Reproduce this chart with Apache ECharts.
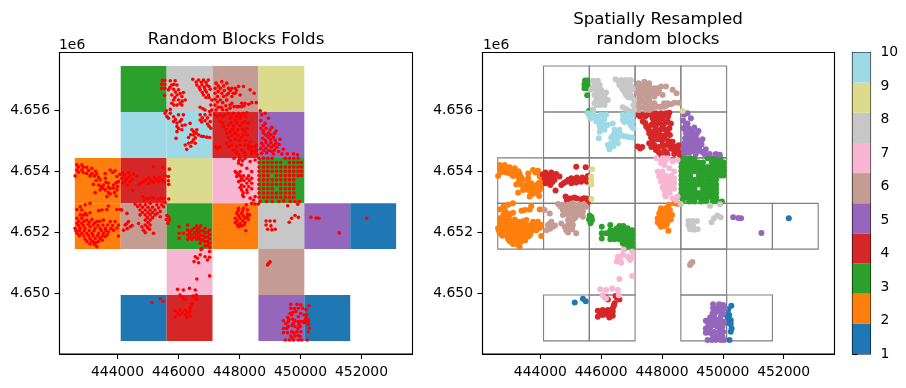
<!DOCTYPE html>
<html><head><meta charset="utf-8">
<style>html,body{margin:0;padding:0;background:#fff}#c{width:906px;height:388px}</style>
<script src="https://cdn.jsdelivr.net/npm/echarts@6/dist/echarts.min.js"></script>
</head><body><div id="c"></div>
<script>
const foldColors=['#1f77b4','#ff7f0e','#2ca02c','#d62728','#9467bd','#c49c94','#f7b6d2','#c7c7c7','#dbdb8d','#9edae5'];
const xTicks=[444000,446000,448000,450000,452000];
const yTicks=[4650000,4652000,4654000,4656000];
const cbTicks=[1,2,3,4,5,6,7,8,9,10];
const xEdges=[442600,444105,445610,447115,448620,450125,451630,453135];
const yEdges=[4657450,4655945,4654440,4652950,4651450,4649945,4648440];
// [column, row, fold]
const blocks=[[1,0,3],[2,0,8],[3,0,6],[4,0,9],[1,1,10],[2,1,10],[3,1,4],[4,1,5],
[0,2,2],[1,2,4],[2,2,9],[3,2,7],[4,2,3],[0,3,2],[1,3,6],[2,3,3],[3,3,2],[4,3,8],[5,3,5],[6,3,1],
[2,4,7],[4,4,6],[1,5,1],[2,5,4],[4,5,5],[5,5,1]];
// sample points in km [easting, northing]
const fold1=[[452.17,4652.46],[445.13,4649.70],[445.40,4649.82],[445.49,4649.74],[450.28,4649.59],[450.18,4649.47],[450.12,4649.29],[450.21,4649.29],[450.15,4649.12],[450.26,4649.12],[450.12,4649.04],[450.26,4648.99],[450.29,4648.85],[450.26,4648.74],[450.22,4648.47],[450.18,4649.20],[450.20,4649.05],[450.24,4649.00]];
const fold2=[[442.67,4654.21],[442.83,4654.21],[442.67,4654.04],[442.83,4654.04],[442.99,4654.13],[443.16,4654.10],[442.61,4653.85],[442.99,4653.93],[443.16,4653.93],[443.32,4653.91],[443.60,4653.93],[443.76,4654.04],[443.92,4654.02],[443.98,4653.83],[443.43,4653.72],[443.60,4653.77],[443.21,4653.57],[443.27,4653.30],[443.38,4653.55],[443.54,4653.55],[443.70,4653.61],[443.87,4653.55],[444.03,4653.66],[443.43,4653.39],[443.60,4653.39],[443.76,4653.44],[443.98,4653.39],[443.65,4653.17],[443.76,4653.26],[443.96,4653.19],[443.10,4652.95],[442.94,4652.90],[442.78,4652.84],[442.67,4652.75],[442.83,4652.73],[442.94,4652.62],[443.70,4652.86],[443.49,4652.73],[443.38,4652.71],[443.65,4652.75],[443.98,4652.75],[444.09,4652.75],[442.78,4652.57],[442.99,4652.57],
[442.72,4654.14],[442.88,4654.13],[442.72,4653.97],[442.88,4653.96],[443.05,4654.03],[443.10,4653.85],[443.24,4653.85],[443.28,4654.00],[443.30,4653.70],[443.38,4653.80],[443.46,4653.50],[443.62,4653.64],[443.70,4653.48],[443.87,4653.45],[443.95,4653.62],[444.00,4653.50],[443.52,4653.44],[443.90,4653.30],[443.84,4653.96],[443.70,4653.30],
[442.67,4652.46],[442.83,4652.46],[442.67,4652.29],[442.83,4652.29],[442.99,4652.40],[443.16,4652.42],[443.32,4652.35],[443.54,4652.40],[442.61,4652.13],[442.78,4652.13],[442.94,4652.13],[443.10,4652.18],[443.27,4652.13],[443.43,4652.13],[443.60,4652.13],[443.76,4652.35],[443.92,4652.35],[444.03,4652.24],[442.67,4651.97],[442.83,4651.97],[442.99,4651.97],[443.16,4651.97],[443.38,4651.97],[443.54,4651.97],[443.70,4652.02],[443.87,4652.07],[444.03,4651.88],[442.94,4651.77],[443.10,4651.80],[443.27,4651.80],[443.43,4651.80],[443.60,4651.86],[443.10,4651.62],[443.32,4651.53],[443.21,4651.69],
[442.73,4652.36],[442.90,4652.36],[443.08,4652.34],[443.24,4652.30],[443.42,4652.36],[442.72,4652.22],[442.88,4652.22],[443.04,4652.26],[443.20,4652.24],[443.36,4652.22],[443.52,4652.24],[443.68,4652.24],[443.84,4652.22],[443.98,4652.14],[442.64,4652.05],[442.75,4652.05],[442.91,4652.05],[443.07,4652.06],[443.23,4652.05],[443.47,4652.06],[443.62,4652.06],[443.78,4652.12],[442.75,4651.89],[442.90,4651.88],[443.05,4651.89],[443.20,4651.89],[443.35,4651.89],[443.50,4651.88],[443.66,4651.92],[443.00,4651.70],[443.15,4651.72],[443.37,4651.70],[443.50,4651.74],[443.24,4651.60],[443.29,4651.66],[442.88,4652.56],[443.10,4652.64],
[447.97,4652.79],[448.13,4652.79],[448.26,4652.73],[447.91,4652.62],[448.07,4652.62],[448.26,4652.60],[448.33,4652.57],[447.86,4652.46],[448.02,4652.46],[448.18,4652.46],[448.29,4652.42],[447.86,4652.32],[448.02,4652.29],[448.18,4652.32],[447.97,4652.18],[448.07,4652.21],[448.21,4652.05],[448.40,4652.95],[448.22,4652.90],[448.51,4652.93],
[447.95,4652.70],[448.10,4652.70],[447.97,4652.54],[448.12,4652.54],[447.92,4652.38],[448.10,4652.38],[447.93,4652.25],[448.15,4652.25],[448.25,4652.52]];
const fold3=[[445.47,4656.98],[445.55,4656.98],[445.45,4656.85],[445.55,4656.85],[445.45,4656.72],[445.55,4656.72],[445.54,4656.49],[445.60,4655.98],[445.62,4652.55],[445.68,4652.50],[445.60,4652.42],[445.70,4652.40],[445.65,4652.30],
[446.02,4652.18],[446.02,4651.97],[446.02,4651.80],[446.16,4651.97],[446.30,4652.24],[446.30,4652.07],[446.30,4651.91],[446.30,4651.77],[446.44,4652.07],[446.44,4651.91],[446.44,4651.77],[446.60,4652.21],[446.60,4652.05],[446.60,4651.91],[446.60,4651.77],[446.73,4652.21],[446.73,4652.05],[446.73,4651.91],[446.73,4651.75],[446.87,4652.13],[446.87,4651.99],[446.87,4651.84],[446.87,4651.69],[446.87,4651.55],[447.02,4652.07],[447.02,4651.93],[447.02,4651.79],[447.02,4651.64],[447.02,4651.50],[446.71,4651.64],[446.77,4651.47],
[446.37,4651.98],[446.37,4651.84],[446.52,4652.13],[446.52,4651.98],[446.52,4651.84],[446.66,4652.13],[446.66,4651.98],[446.66,4651.84],[446.80,4652.05],[446.80,4651.90],[446.80,4651.75],[446.95,4652.00],[446.95,4651.85],[446.95,4651.70],[446.95,4651.57],[446.70,4651.78],
[448.64,4654.43],[448.79,4654.43],[448.93,4654.43],[449.07,4654.43],[449.50,4654.43],[449.64,4654.43],[449.78,4654.43],[449.92,4654.43],
[448.64,4654.29],[448.79,4654.29],[448.93,4654.29],[449.07,4654.29],[449.21,4654.29],[449.35,4654.29],[449.64,4654.29],[449.78,4654.29],[449.92,4654.29],[450.03,4654.29],
[448.64,4654.14],[448.79,4654.14],[448.93,4654.14],[449.07,4654.14],[449.21,4654.14],[449.35,4654.14],[449.50,4654.14],[449.64,4654.14],[449.78,4654.14],[449.92,4654.14],[450.03,4654.14],
[448.64,4654.00],[448.79,4654.00],[448.93,4654.00],[449.07,4654.00],[449.21,4654.00],[449.35,4654.00],[449.50,4654.00],[449.64,4654.00],[449.78,4654.00],[449.92,4654.00],[450.03,4654.00],
[448.64,4653.86],[448.79,4653.86],[448.93,4653.86],[449.21,4653.86],[449.35,4653.86],[449.50,4653.86],[449.64,4653.86],[449.78,4653.86],[449.92,4653.86],[450.03,4653.86],
[448.64,4653.72],[448.79,4653.72],[448.93,4653.72],[449.07,4653.72],[449.21,4653.72],[449.35,4653.72],[449.50,4653.72],[449.64,4653.72],[449.78,4653.72],
[448.64,4653.57],[448.79,4653.57],[448.93,4653.57],[449.07,4653.57],[449.21,4653.57],[449.35,4653.57],[449.50,4653.57],[449.64,4653.57],[449.78,4653.57],
[448.64,4653.43],[448.79,4653.43],[448.93,4653.43],[449.07,4653.43],[449.35,4653.43],[449.50,4653.43],[449.64,4653.43],[449.78,4653.43],
[448.64,4653.29],[448.79,4653.29],[448.93,4653.29],[449.07,4653.29],[449.21,4653.29],[449.35,4653.29],[449.50,4653.29],[449.64,4653.29],[449.78,4653.29],
[448.64,4653.15],[448.79,4653.15],[448.93,4653.15],[449.07,4653.15],[449.21,4653.15],[449.35,4653.15],[449.50,4653.15],[449.64,4653.15],[449.78,4653.15],
[448.68,4653.01],[448.89,4653.01],[449.07,4653.01],[449.29,4653.01],[449.66,4653.01],[449.82,4653.01],[449.97,4653.01],[449.45,4653.03]];
const fold4=[[447.20,4655.85],[447.37,4655.85],[447.53,4655.85],[447.37,4655.63],[447.48,4655.47],[447.58,4655.25],[447.20,4654.81],[447.28,4654.75],
[447.64,4655.90],[447.80,4655.90],[447.97,4655.90],[448.13,4655.90],[448.24,4655.92],[447.69,4655.74],[447.86,4655.68],[448.02,4655.74],[448.18,4655.63],[448.29,4655.57],[447.64,4655.52],[447.80,4655.49],[448.02,4655.49],[448.24,4655.41],[447.69,4655.30],[447.86,4655.25],[448.18,4655.30],[448.26,4655.19],[447.64,4655.11],[447.86,4655.05],[448.07,4655.11],[448.35,4654.97],[447.58,4654.92],[447.75,4654.86],[448.02,4654.86],[448.18,4654.86],[448.51,4654.81],[447.80,4654.70],[448.07,4654.70],[448.29,4654.75],[448.51,4654.65],[447.97,4654.54],[448.18,4654.54],[448.40,4654.57],[448.57,4654.70],
[447.28,4655.80],[447.45,4655.80],[447.72,4655.80],[447.90,4655.80],[448.05,4655.82],[448.20,4655.80],[447.45,4655.58],[447.72,4655.60],[447.92,4655.58],[448.10,4655.58],[447.55,4655.38],[447.78,4655.38],[447.95,4655.36],[448.10,4655.38],[447.75,4655.18],[447.95,4655.18],[448.12,4655.20],[447.70,4655.00],[448.00,4655.00],[448.20,4655.00],[447.65,4654.80],[447.90,4654.80],[448.30,4654.85],[448.40,4654.80],[447.90,4654.62],[448.15,4654.62],[448.40,4654.68],[448.55,4654.85],[448.58,4654.55],[447.35,4654.80],
[445.18,4654.15],[445.49,4654.13],[444.17,4653.96],[444.36,4653.96],[444.52,4653.91],[444.63,4653.83],[444.14,4653.77],[444.31,4653.77],[444.47,4653.72],[444.17,4653.61],[444.33,4653.55],[444.50,4653.37],[444.69,4653.55],[444.85,4653.66],[445.02,4653.77],[445.20,4653.80],[445.38,4653.80],[445.56,4653.85],[445.02,4653.61],[445.18,4653.63],[445.34,4653.66],[445.53,4653.66],[444.83,4653.17],[445.02,4653.11],[445.20,4653.11],[445.34,4653.08],[445.51,4653.11],[444.87,4653.06],[445.56,4652.97],
[444.22,4653.88],[444.25,4653.68],[444.40,4653.85],[444.08,4653.90],[444.40,4653.65],[444.92,4653.72],[445.10,4653.70],[445.27,4653.72],[445.44,4653.72],[444.77,4653.62],[444.95,4653.11],[445.12,4653.14],[445.43,4653.12],
[446.14,4649.87],[446.22,4649.80],[446.47,4649.91],[446.60,4649.80],[446.44,4649.67],[446.38,4649.51],[445.89,4649.43],[446.05,4649.45],[446.22,4649.45],[446.38,4649.40],[445.89,4649.23],[446.05,4649.29],[446.22,4649.29],[446.38,4649.26],[446.27,4649.21],[445.97,4649.35],[446.13,4649.36],[446.30,4649.36],[446.42,4649.60],[446.52,4649.85]];
const fold5=[[448.73,4655.85],[448.84,4655.90],[448.95,4655.74],[448.70,4655.66],[448.84,4655.57],[448.70,4655.41],[448.87,4655.41],[449.06,4655.44],[448.79,4655.25],[448.95,4655.25],[449.15,4655.25],[448.76,4655.08],[448.95,4655.12],[449.11,4655.12],[449.33,4655.05],[448.73,4654.92],[448.87,4654.94],[449.03,4654.94],[449.20,4654.92],[448.70,4654.75],[448.87,4654.75],[449.04,4654.79],[449.22,4654.79],[448.73,4654.59],[448.89,4654.61],[449.06,4654.65],[449.28,4654.65],[449.44,4654.72],[449.57,4654.57],[449.77,4654.57],[449.90,4654.54],[449.11,4654.57],[449.39,4654.57],
[448.78,4655.50],[448.78,4655.33],[448.87,4655.18],[449.03,4655.20],[448.85,4655.02],[449.02,4655.04],[449.17,4655.02],[448.78,4654.84],[448.95,4654.85],[449.12,4654.85],[449.30,4654.88],[448.80,4654.68],[448.97,4654.68],[449.15,4654.70],[449.20,4655.32],[449.00,4655.35],
[450.34,4652.49],[450.51,4652.47],[450.60,4652.46],[451.27,4651.98],
[449.68,4649.64],[449.68,4649.51],[449.88,4649.64],[450.01,4649.62],[450.07,4649.51],[449.93,4649.51],[449.66,4649.34],[449.71,4649.29],[449.58,4649.21],[449.75,4649.15],[449.93,4649.23],[450.01,4649.34],[449.44,4649.10],[449.60,4649.07],[449.77,4649.02],[449.93,4649.07],[450.04,4649.07],[449.44,4648.85],[449.60,4648.91],[449.82,4648.91],[449.99,4648.91],[449.44,4648.71],[449.57,4648.71],[449.71,4648.74],[449.88,4648.74],[450.01,4648.74],[449.68,4648.60],[449.82,4648.60],[449.99,4648.58],[449.50,4648.47],[449.64,4648.47],[449.77,4648.47],[449.93,4648.47],[450.04,4648.47],
[449.62,4649.15],[449.85,4649.40],[449.52,4649.00],[449.82,4649.10],[449.72,4648.95],[449.95,4648.98],[449.55,4648.85],[449.80,4649.50],[449.75,4649.38],[449.92,4648.85],[449.78,4648.70],[449.92,4648.62],[449.72,4648.55]];
const fold6=[[447.23,4656.89],[447.42,4656.94],[447.58,4656.89],[447.20,4656.72],[447.37,4656.72],[447.64,4656.72],[447.86,4656.72],[447.20,4656.56],[447.42,4656.56],[447.58,4656.50],[447.80,4656.56],[447.20,4656.36],[447.37,4656.34],[447.58,4656.34],[447.69,4656.17],[447.20,4656.17],[447.23,4656.01],[447.91,4656.12],[448.07,4656.23],
[447.75,4656.72],[447.97,4656.78],[448.13,4656.78],[448.35,4656.67],[448.48,4656.56],[447.64,4656.56],[447.86,4656.56],[448.02,4656.50],[447.58,4656.34],[447.75,4656.23],[447.97,4656.12],[448.18,4656.23],[448.40,4656.25],[448.55,4656.25],[447.69,4656.07],[447.58,4656.01],[448.07,4656.12],
[447.30,4656.80],[447.30,4656.62],[447.48,4656.80],[447.50,4656.65],[447.28,4656.45],[447.48,4656.45],[447.28,4656.27],[447.45,4656.25],[447.30,4656.10],[447.70,4656.65],[447.75,4656.45],[447.90,4656.65],[447.82,4656.12],[448.15,4656.15],[448.30,4656.20],[447.55,4656.15],[447.40,4656.10],[447.45,4656.02],
[444.14,4652.73],[444.31,4652.62],[444.58,4652.93],[444.74,4652.90],[444.91,4652.90],[445.07,4652.95],[445.29,4652.90],[445.45,4652.90],[444.74,4652.73],[444.91,4652.73],[445.07,4652.73],[445.23,4652.73],[445.40,4652.68],[445.51,4652.84],[445.07,4652.57],[445.23,4652.57],[445.40,4652.51],[444.91,4652.57],[444.74,4652.57],[444.91,4652.40],[445.07,4652.40],[444.91,4652.24],[445.07,4652.24],[444.36,4652.35],[444.25,4652.24],[444.42,4652.18],[444.20,4652.07],[444.69,4652.29],[444.85,4652.07],[444.91,4651.99],[445.18,4651.97],
[444.66,4652.85],[444.82,4652.82],[445.00,4652.82],[445.15,4652.82],[445.35,4652.80],[444.82,4652.65],[445.00,4652.65],[445.15,4652.65],[445.30,4652.62],[444.98,4652.48],[445.15,4652.48],[445.00,4652.32],[444.98,4652.16],[444.80,4652.18],[444.30,4652.28],[444.32,4652.12],[444.48,4652.22],[445.05,4652.10],
[448.92,4650.93],[448.95,4650.98],[449.00,4651.03]];
const fold7=[[447.82,4654.43],[448.02,4654.43],[448.18,4654.43],[447.97,4654.26],[448.07,4654.21],[448.35,4654.32],[448.51,4654.37],[447.86,4653.99],[448.02,4653.99],[448.24,4654.10],[448.40,4653.99],[447.91,4653.83],[448.07,4653.77],[448.24,4653.77],[447.97,4653.66],[448.40,4653.77],[448.07,4653.55],[448.24,4653.61],[448.40,4653.61],[448.07,4653.39],[448.24,4653.39],[448.13,4653.17],[448.35,4653.12],[448.46,4653.06],[448.51,4653.17],
[447.98,4654.35],[448.10,4654.35],[447.90,4653.95],[447.96,4653.90],[448.02,4653.85],[448.13,4653.85],[448.30,4653.85],[448.04,4653.70],[448.15,4653.70],[448.32,4653.70],[448.02,4653.47],[448.15,4653.50],[448.30,4653.50],[448.12,4653.30],[448.25,4653.30],[448.10,4653.22],[448.40,4653.43],
[446.74,4651.44],[447.02,4651.37],[446.55,4651.20],[446.71,4651.26],[446.87,4651.20],[446.51,4651.04],[446.66,4651.00],[447.02,4651.18],[446.95,4651.09],[446.60,4650.47],[447.02,4650.57],[445.97,4650.13],[446.16,4650.11],[446.36,4650.16],[446.55,4650.11],[446.05,4649.94],[446.16,4649.83],[446.58,4649.94],[446.62,4651.15]];
const fold8=[[445.73,4656.97],[445.89,4656.97],[445.78,4656.83],[445.95,4656.83],[445.67,4656.67],[445.84,4656.69],[446.00,4656.67],[446.16,4656.58],[445.78,4656.50],[445.95,4656.50],[446.11,4656.45],[445.84,4656.34],[446.00,4656.34],[446.22,4656.34],[445.78,4656.23],[445.95,4656.17],[446.11,4656.17],[445.73,4656.03],
[445.85,4656.85],[445.72,4656.75],[445.90,4656.60],[446.05,4656.55],[445.88,4656.42],[446.12,4656.30],[445.85,4656.17],[446.05,4656.22],
[446.47,4657.02],[446.66,4656.99],[446.82,4656.99],[446.98,4656.99],[446.60,4656.83],[446.77,4656.83],[446.93,4656.83],[446.71,4656.67],[446.87,4656.67],[447.04,4656.69],[446.82,4656.50],[446.98,4656.50],[447.09,4656.34],[447.06,4656.17],[446.71,4656.10],[446.87,4656.01],[447.09,4656.01],[447.02,4655.96],
[446.58,4656.93],[446.75,4656.92],[446.90,4656.92],[446.68,4656.75],[446.85,4656.75],[447.00,4656.78],[446.78,4656.58],[446.92,4656.60],[446.90,4656.42],[447.00,4656.42],[446.80,4656.05],
[448.87,4652.37],[449.00,4652.37],[449.15,4652.37],[448.87,4652.24],[449.03,4652.21],[448.92,4652.10],[449.06,4652.08],[449.17,4652.10],[449.63,4652.33],[449.71,4652.46],[449.82,4652.55],[449.93,4652.49],[448.62,4652.93],[449.58,4652.87],[449.91,4652.92]];
const fold9=[[445.70,4654.07],[445.67,4653.83],[445.67,4653.69],[445.68,4653.57],[445.68,4653.09],[448.68,4655.98]];
const fold10=[[445.56,4655.90],[445.73,4655.90],[445.67,4655.74],[445.84,4655.79],[446.00,4655.85],[446.16,4655.85],[445.84,4655.63],[446.05,4655.63],[446.22,4655.52],[445.95,4655.47],[446.11,4655.36],[445.95,4655.30],[446.38,4655.57],[446.71,4655.85],[446.87,4655.85],[447.04,4655.85],[446.71,4655.68],[446.87,4655.66],[447.04,4655.63],[447.06,4655.41],[446.44,4655.36],[446.60,4655.36],[446.49,4655.19],[446.66,4655.19],[446.33,4655.11],[446.49,4655.03],[446.82,4655.14],[447.02,4655.11],[445.92,4655.08],[446.33,4654.92],[446.55,4654.92],[446.27,4654.72],[446.22,4654.86],
[445.62,4655.80],[445.90,4655.70],[445.95,4655.58],[446.10,4655.70],[446.12,4655.50],[446.00,4655.40],[446.50,4655.30],[446.55,4655.10],[446.40,4655.20],[446.58,4655.25],[446.75,4655.15],[446.92,4655.12],[446.43,4654.95],[446.40,4654.82],[446.78,4655.75],[446.95,4655.75],[446.76,4655.62],[446.95,4655.55],[447.00,4655.48]];
const folds=[fold1,fold2,fold3,fold4,fold5,fold6,fold7,fold8,fold9,fold10];
const toMetres=p=>[p[0]*1000,p[1]*1000];

const X=[442098,453672], Y=[4648010,4657895];
const FONT='"DejaVu Sans"', FS=13.9;
const blockData=blocks.map(b=>[xEdges[b[0]],yEdges[b[1]+1],xEdges[b[0]+1],yEdges[b[1]],b[2]]);
const cbData=foldColors.map((c,i)=>[0,1+i*0.9,1,1+(i+1)*0.9,i+1]);
function rectItem(fill,stroke){return function(params,api){
  const a=api.coord([api.value(0),api.value(3)]), b=api.coord([api.value(2),api.value(1)]);
  return {type:'rect',shape:{x:a[0],y:a[1],width:b[0]-a[0],height:b[1]-a[1]},
    style:fill?{fill:foldColors[api.value(4)-1],stroke:null}:{fill:null,stroke:stroke,lineWidth:1.1}};
};}
const mkX=(i)=>({type:'value',gridIndex:i,min:X[0],max:X[1],scale:true,splitLine:{show:false},
  axisLine:{show:true,onZero:false,lineStyle:{color:'#000',width:1.1}},
  axisTick:{show:true,customValues:xTicks,length:5,lineStyle:{color:'#000',width:1.1}},
  axisLabel:{customValues:xTicks,formatter:v=>String(v),fontFamily:FONT,fontSize:FS,color:'#000',margin:11,hideOverlap:false}});
const mkY=(i)=>({type:'value',gridIndex:i,min:Y[0],max:Y[1],scale:true,splitLine:{show:false},
  axisLine:{show:true,onZero:false,lineStyle:{color:'#000',width:1.1}},
  axisTick:{show:true,customValues:yTicks,length:5,lineStyle:{color:'#000',width:1.1}},
  axisLabel:{customValues:yTicks,formatter:v=>(v/1e6).toFixed(3),fontFamily:FONT,fontSize:FS,color:'#000',margin:9.5,hideOverlap:false}});
const ts={fontFamily:FONT,fontSize:16.7,fontWeight:'normal',color:'#000',lineHeight:19.5};
const option={animation:false,backgroundColor:'#fff',
 title:[
  {text:'Random Blocks Folds',left:236,top:30,textAlign:'center',padding:0,textStyle:ts},
  {text:'Spatially Resampled\nrandom blocks',left:658,top:10,textAlign:'center',padding:0,textStyle:{...ts,align:'center'}},
  {text:'1e6',left:59,top:37,padding:0,textStyle:{...ts,fontSize:FS,lineHeight:16}},
  {text:'1e6',left:483,top:37,padding:0,textStyle:{...ts,fontSize:FS,lineHeight:16}}],
 grid:[
  {left:59.5,top:52.5,width:353,height:301.5,show:true,borderColor:'#000',borderWidth:1.1,backgroundColor:'#fff'},
  {left:482.5,top:52.5,width:352,height:301.5,show:true,borderColor:'#000',borderWidth:1.1,backgroundColor:'#fff'},
  {left:852.5,top:52.5,width:18,height:301.5,show:true,borderColor:'#000',borderWidth:1.1}],
 xAxis:[mkX(0),mkX(1),{type:'value',gridIndex:2,min:0,max:1,show:false}],
 yAxis:[mkY(0),mkY(1),{type:'value',gridIndex:2,min:1,max:10,interval:1,position:'right',splitLine:{show:false},
   axisLine:{show:true,lineStyle:{color:'#000',width:1.1}},
   axisTick:{show:true,length:5,lineStyle:{color:'#000',width:1.1}},
   axisLabel:{customValues:cbTicks,fontFamily:FONT,fontSize:FS,color:'#000',margin:10,hideOverlap:false}}],
 series:[
  {type:'custom',name:'blocks',xAxisIndex:0,yAxisIndex:0,silent:true,z:2,data:blockData,encode:{x:[0,2],y:[1,3]},renderItem:rectItem(true)},
  {type:'scatter',name:'points',xAxisIndex:0,yAxisIndex:0,silent:true,z:3,symbolSize:3.6,itemStyle:{color:'#ff0000',opacity:1},data:folds.flat().map(toMetres)},
  {type:'custom',name:'outlines',xAxisIndex:1,yAxisIndex:1,silent:true,z:2,data:blockData,encode:{x:[0,2],y:[1,3]},renderItem:rectItem(false,'#808080')},
  ...folds.map((f,i)=>({type:'scatter',name:'fold'+(i+1),xAxisIndex:1,yAxisIndex:1,silent:true,z:3,symbolSize:6,itemStyle:{color:foldColors[i],opacity:1},data:f.map(toMetres)})),
  {type:'custom',name:'colorbar',xAxisIndex:2,yAxisIndex:2,silent:true,z:2,data:cbData,encode:{x:[0,2],y:[1,3]},renderItem:rectItem(true)}
 ]};
echarts.init(document.getElementById('c'),null,{renderer:'canvas'}).setOption(option);
</script></body></html>
